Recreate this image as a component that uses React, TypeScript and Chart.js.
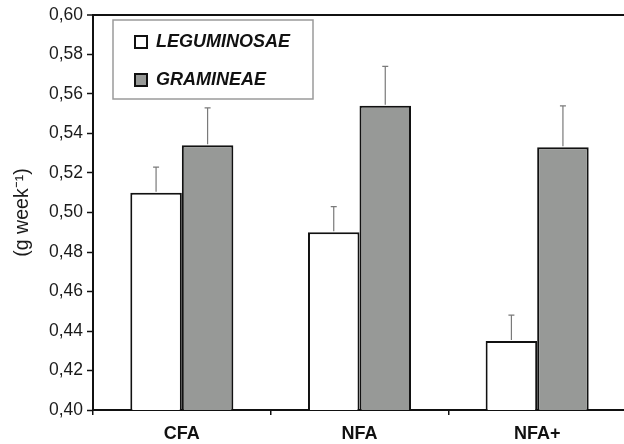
import React, { useEffect, useRef } from "react";
import { Chart, registerables } from "chart.js";

Chart.register(...registerables);

const categories = ["CFA", "NFA", "NFA+"];
const seriesNames = ["LEGUMINOSAE", "GRAMINEAE"];
const leguminosae = [0.510, 0.490, 0.435];
const leguminosaeErr = [0.013, 0.013, 0.013];
const gramineae = [0.534, 0.554, 0.533];
const gramineaeErr = [0.019, 0.020, 0.021];
const yMin = 0.4;
const yMax = 0.6;
const yStep = 0.02;
const yTitle = "(g week\u207B\u00B9)";

const errorSets = [leguminosaeErr, gramineaeErr];
const FONT = "'Liberation Sans', Arial, sans-serif";

const errorBarsPlugin = {
  id: "errorBars",
  afterDatasetsDraw(chart: any) {
    const ctx = chart.ctx;
    const y = chart.scales.y;
    chart.data.datasets.forEach((ds: any, i: number) => {
      const meta = chart.getDatasetMeta(i);
      const errs = errorSets[i];
      meta.data.forEach((bar: any, j: number) => {
        const v = ds.data[j];
        const top = y.getPixelForValue(v);
        const end = y.getPixelForValue(v + errs[j]);
        ctx.save();
        ctx.strokeStyle = "#7a7a7a";
        ctx.lineWidth = 1.2;
        ctx.beginPath();
        ctx.moveTo(bar.x, top - 1);
        ctx.lineTo(bar.x, end);
        ctx.moveTo(bar.x - 3, end);
        ctx.lineTo(bar.x + 3, end);
        ctx.stroke();
        ctx.restore();
      });
    });
  },
};

const legendPlacePlugin = {
  id: "legendPlace",
  afterLayout(chart: any) {
    const lg = chart.legend;
    const ca = chart.chartArea;
    if (!lg) return;
    const w = lg.width;
    const h = lg.height;
    lg.left = ca.left + 22;
    lg.top = ca.top - 2;
    lg.right = lg.left + w;
    lg.bottom = lg.top + h;
  },
  beforeDatasetsDraw(chart: any) {
    const ctx = chart.ctx;
    const ca = chart.chartArea;
    ctx.save();
    ctx.strokeStyle = "#9a9a9a";
    ctx.lineWidth = 1.5;
    ctx.strokeRect(ca.left + 20, ca.top + 5, 200, 79);
    ctx.restore();
  },
};

export default function App() {
  const ref = useRef<HTMLCanvasElement | null>(null);

  useEffect(() => {
    if (!ref.current) return;
    const chart = new Chart(ref.current, {
      type: "bar",
      data: {
        labels: categories,
        datasets: [
          {
            label: seriesNames[0],
            data: leguminosae,
            backgroundColor: "#ffffff",
            borderColor: "#111111",
            borderWidth: 2,
            categoryPercentage: 0.58,
            barPercentage: 1.0,
          },
          {
            label: seriesNames[1],
            data: gramineae,
            backgroundColor: "#979997",
            borderColor: "#111111",
            borderWidth: 2,
            categoryPercentage: 0.58,
            barPercentage: 1.0,
          },
        ],
      },
      options: {
        responsive: false,
        animation: false,
        devicePixelRatio: 1,
        layout: { padding: { top: 15, right: 0, bottom: 0, left: 0 } },
        plugins: {
          tooltip: { enabled: false },
          legend: {
            position: "chartArea",
            align: "start",
            labels: {
              boxWidth: 12,
              boxHeight: 12,
              padding: 20,
              color: "#111",
              font: { family: FONT, size: 18, style: "italic", weight: "bold" },
            },
          },
        },
        scales: {
          x: {
            offset: true,
            border: { display: true, color: "#111", width: 2 },
            grid: {
              display: true,
              offset: true,
              drawOnChartArea: false,
              drawTicks: true,
              tickLength: 5,
              color: "#111",
              lineWidth: 1.5,
            },
            ticks: {
              color: "#111",
              padding: 8,
              font: { family: FONT, size: 18, weight: "bold" },
            },
            afterFit(scale: any) {
              scale.height = 34;
            },
          },
          y: {
            min: yMin,
            max: yMax,
            border: { display: true, color: "#111", width: 2 },
            grid: {
              display: true,
              drawOnChartArea: true,
              drawTicks: true,
              tickLength: 6,
              tickColor: "#111",
              tickWidth: 1.5,
              color: (c: any) =>
                c.tick && Math.abs(c.tick.value - yMax) < 1e-6 ? "#111" : "rgba(0,0,0,0)",
              lineWidth: (c: any) =>
                c.tick && Math.abs(c.tick.value - yMax) < 1e-6 ? 2 : 1,
            },
            ticks: {
              stepSize: yStep,
              color: "#1a1a1a",
              padding: 4,
              font: { family: FONT, size: 17.5 },
              callback: (v: any) => Number(v).toFixed(2).replace(".", ","),
            },
            title: {
              display: true,
              text: yTitle,
              color: "#1a1a1a",
              padding: { top: 11, bottom: 0 },
              font: { family: FONT, size: 19.5 },
            },
            afterFit(scale: any) {
              scale.width = 93;
            },
          },
        },
      },
      plugins: [errorBarsPlugin, legendPlacePlugin],
    } as any);
    return () => chart.destroy();
  }, []);

  return (
    <div
      style={{
        position: "absolute",
        left: 0,
        top: 0,
        width: 624,
        height: 444,
        overflow: "hidden",
        background: "#fff",
      }}
    >
      <canvas ref={ref} width={626} height={444} style={{ width: 626, height: 444, display: "block" }} />
    </div>
  );
}
